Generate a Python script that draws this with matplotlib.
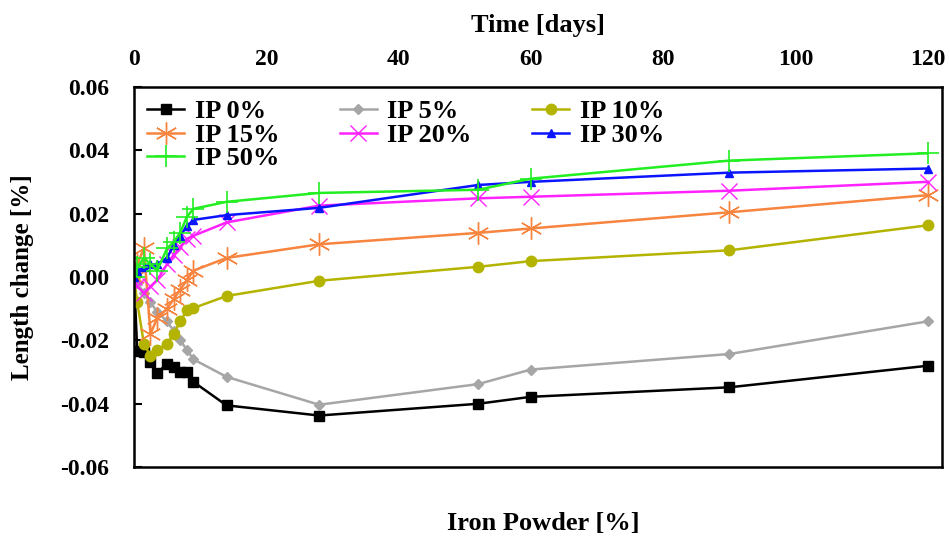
import matplotlib
matplotlib.use('Agg')
import numpy as np
from matplotlib import pyplot as plt

plt.rcParams['font.family'] = ['Liberation Serif', 'DejaVu Serif']
plt.rcParams['font.weight'] = 'bold'

days = [0, 0.5, 1.5, 2.5, 3.5, 5, 6, 7, 8, 9, 14, 28, 52, 60, 90, 120]

ip0 = [0.0, -0.0232, -0.0237, -0.0268, -0.0303, -0.0274, -0.0284, -0.0300, -0.0300, -0.0331,
       -0.0405, -0.0437, -0.0400, -0.0378, -0.0348, -0.0280]
ip5 = [0.0, -0.002, -0.005, -0.008, -0.011, -0.014, -0.017, -0.020, -0.023, -0.026,
       -0.0315, -0.0403, -0.0338, -0.0292, -0.0243, -0.0140]
ip10 = [0.0, -0.008, -0.021, -0.025, -0.023, -0.021, -0.018, -0.014, -0.0105, -0.0098,
        -0.0060, -0.0012, 0.0032, 0.0050, 0.0084, 0.0163]
ip15 = [0.0, 0.004, 0.009, -0.018, -0.013, -0.010, -0.007, -0.004, -0.001, 0.002,
        0.0060, 0.0103, 0.0139, 0.0153, 0.0204, 0.0258]
ip20 = [0.0, -0.003, -0.005, -0.003, -0.001, 0.004, 0.007, 0.0095, 0.012, 0.013,
        0.0172, 0.0225, 0.0248, 0.0253, 0.0272, 0.0300]
ip30 = [0.0, 0.002, 0.003, 0.004, 0.004, 0.006, 0.010, 0.013, 0.016, 0.018,
        0.0195, 0.0218, 0.0290, 0.0300, 0.0329, 0.0342]
ip50 = [0.0, 0.003, 0.006, 0.004, 0.002, 0.009, 0.011, 0.014, 0.019, 0.0215,
        0.0237, 0.0265, 0.0275, 0.0310, 0.0367, 0.0390]

series = [
    ('IP 0%', ip0, 'black', 's', 7, 1.0),
    ('IP 5%', ip5, '#a6a6a6', 'D', 5, 1.0),
    ('IP 10%', ip10, '#b4b400', 'o', 7.5, 1.0),
    ('IP 15%', ip15, '#f7843f', (6, 2, 0), 16, 1.0),
    ('IP 20%', ip20, '#ff22ff', 'x', 11, 1.0),
    ('IP 30%', ip30, '#0a14ff', '^', 6, 1.0),
    ('IP 50%', ip50, '#22ee22', '+', 16, 1.2),
]

fig = plt.figure(figsize=(9.5, 5.42), dpi=100)
ax = fig.add_axes([0.141, 0.138, 0.851, 0.702])

lines = []
for label, vals, col, mk, ms, mew in series:
    ln, = ax.plot(days, vals, color=col, marker=mk, markersize=ms, linewidth=1.8,
                  markeredgewidth=mew, label=label)
    lines.append(ln)

ax.set_xlim(0, 122.2)
ax.set_ylim(-0.06, 0.06)
ax.set_xticks(np.arange(0, 121, 20))
ax.set_yticks(np.arange(-0.06, 0.061, 0.02))
ax.set_yticklabels(['-0.06', '-0.04', '-0.02', '0.00', '0.02', '0.04', '0.06'])
ax.xaxis.tick_top()
ax.xaxis.set_label_position('top')
ax.tick_params(axis='x', length=0, labelsize=17, pad=12)
ax.tick_params(axis='y', direction='in', length=6, width=1.5, labelsize=17, pad=18)
for sp in ax.spines.values():
    sp.set_linewidth(1.8)

ax.set_xlabel('Time [days]', fontsize=19, fontweight='bold', labelpad=12)
ax.set_ylabel('Length change [%]', fontsize=18, fontweight='bold')
ax.yaxis.set_label_coords(-0.124, 0.5)
fig.text(0.572, 0.022, 'Iron Powder [%]', fontsize=19, fontweight='bold', ha='center')

order = [0, 3, 6, 1, 4, 2, 5]
ax.legend([lines[i] for i in order], [series[i][0] for i in order], ncol=3,
          loc='upper left', bbox_to_anchor=(0.0, 1.0), frameon=False, fontsize=19,
          handlelength=1.4, handletextpad=0.4, columnspacing=2.3, labelspacing=0.0,
          borderaxespad=0.1)

fig.savefig('out.png', dpi=100)
